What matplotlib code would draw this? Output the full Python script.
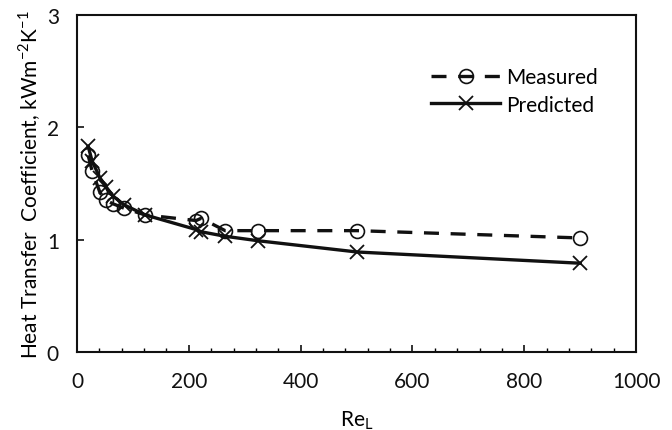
# Heat transfer coefficient vs liquid Reynolds number: measured vs predicted

import matplotlib.pyplot as plt
from matplotlib.ticker import MultipleLocator

plt.rcParams["font.family"] = ["Lato", "DejaVu Sans"]

# Data
re_l = [20, 27, 41, 52, 64, 84, 122, 213, 222, 265, 324, 501, 900]
h_measured = [1.75, 1.61, 1.42, 1.35, 1.32, 1.28, 1.22, 1.17, 1.19, 1.08, 1.08, 1.08, 1.015]
h_predicted = [1.83, 1.70, 1.55, 1.47, 1.39, 1.31, 1.22, 1.09, 1.07, 1.03, 0.99, 0.89, 0.79]

fig = plt.figure(figsize=(6.72, 4.31), dpi=100)
ax = fig.add_axes([0.1146, 0.181, 0.832, 0.782])

ax.plot(re_l, h_measured, color="#111111", lw=2.4, ls=(0, (4.5, 3.5)),
        marker="o", ms=10, mfc="none", mec="#111111", mew=1.2, label="Measured")
ax.plot(re_l, h_predicted, color="#111111", lw=2.4, ls="-",
        marker="x", ms=10, mec="#111111", mew=1.3, label="Predicted")

ax.set_xlim(0, 1000)
ax.set_ylim(0, 3)
ax.xaxis.set_major_locator(MultipleLocator(200))
ax.xaxis.set_minor_locator(MultipleLocator(40))
ax.yaxis.set_major_locator(MultipleLocator(1))
ax.tick_params(axis="both", which="major", direction="in", length=5, width=1.2,
               labelsize=15, pad=14, colors="#111111")
ax.tick_params(axis="x", which="minor", direction="in", length=3, width=1.0)
ax.tick_params(axis="y", which="major", pad=13)

for side in ["left", "bottom", "top", "right"]:
    ax.spines[side].set_linewidth(1.5)
    ax.spines[side].set_color("#111111")

ax.set_xlabel("Re$_\\mathregular{L}$", fontsize=15, labelpad=12)
ax.set_ylabel("Heat Transfer  Coefficient, kWm$^\\mathregular{-2}$K$^\\mathregular{-1}$",
              fontsize=15, labelpad=3)

ax.legend(loc="upper left", bbox_to_anchor=(0.6, 0.9), frameon=False,
          fontsize=15, handlelength=3.3, handletextpad=0.3, labelspacing=0.35)

fig.savefig("out.png", dpi=100)
